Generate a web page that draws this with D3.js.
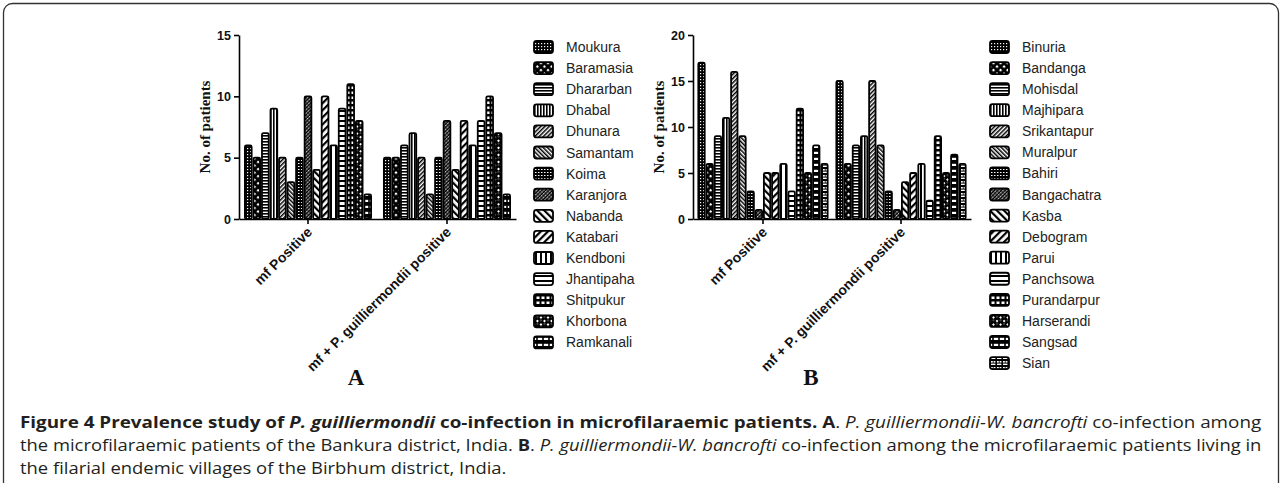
<!DOCTYPE html>
<html>
<head>
<meta charset="utf-8">
<script src="https://cdn.jsdelivr.net/npm/d3@7"></script>
<style>
  body { margin: 0; background: #fff; }
  svg { display: block; }
  .tick text { font-family: "Liberation Sans", Arial, sans-serif; font-weight: bold; font-size: 12.5px; fill: #111; }
  .legend text { font-family: "Liberation Sans", Arial, sans-serif; font-size: 14px; fill: #222; }
  .ylab { font-family: "Liberation Serif", "Times New Roman", serif; font-weight: bold; font-size: 15px; fill: #111; }
  .xlab { font-family: "Liberation Sans", Arial, sans-serif; font-weight: bold; font-size: 14px; fill: #111; }
  .panel { font-family: "Liberation Serif", "Times New Roman", serif; font-weight: bold; font-size: 23px; fill: #111; }
  .caption { font-family: "Open Sans", "Noto Sans", sans-serif; font-size: 16px; fill: #231f20; }
</style>
</head>
<body>
<div id="chart"></div>
<script>
// ---- data ----
const groups = ["mf Positive", "mf + P. guilliermondii positive"];

const villagesA = ["Moukura", "Baramasia", "Dhararban", "Dhabal", "Dhunara", "Samantam", "Koima",
  "Karanjora", "Nabanda", "Katabari", "Kendboni", "Jhantipaha", "Shitpukur", "Khorbona", "Ramkanali"];
const mfPositiveA = [6, 5, 7, 9, 5, 3, 5, 10, 4, 10, 6, 9, 11, 8, 2];
const coPositiveA = [5, 5, 6, 7, 5, 2, 5, 8, 4, 8, 6, 8, 10, 7, 2];
const ticksA = [0, 5, 10, 15];

const villagesB = ["Binuria", "Bandanga", "Mohisdal", "Majhipara", "Srikantapur", "Muralpur", "Bahiri",
  "Bangachatra", "Kasba", "Debogram", "Parui", "Panchsowa", "Purandarpur", "Harserandi", "Sangsad", "Sian"];
const mfPositiveB = [17, 6, 9, 11, 16, 9, 3, 1, 5, 5, 6, 3, 12, 5, 8, 6];
const coPositiveB = [15, 6, 8, 9, 15, 8, 3, 1, 4, 5, 6, 2, 9, 5, 7, 6];
const ticksB = [0, 5, 10, 15, 20];

const W = 1282, H = 483;
const svg = d3.select("#chart").append("svg").attr("width", W).attr("height", H);
const defs = svg.append("defs");

// frame around the figure
svg.append("rect")
  .attr("x", 3.5).attr("y", 3.5).attr("width", W - 7).attr("height", H + 20)
  .attr("rx", 9)
  .attr("fill", "none").attr("stroke", "#333").attr("stroke-width", 1.3);

// ---- hatch patterns (one per village, same order in both panels) ----
function pattern(id, w, h, bg, draw, rot) {
  const p = defs.append("pattern")
    .attr("id", id)
    .attr("patternUnits", "userSpaceOnUse")
    .attr("width", w).attr("height", h);
  if (rot) p.attr("patternTransform", `rotate(${rot})`);
  p.append("rect").attr("width", w).attr("height", h).attr("fill", bg);
  draw(p);
}
const rect = (p, x, y, w, h, c) => p.append("rect").attr("x", x).attr("y", y).attr("width", w).attr("height", h).attr("fill", c);

const patternIds = [];
const makers = [
  p => pattern(p, 3, 3, "#000", g => { rect(g, 1, 1, 1.2, 1.2, "#fff"); }),                         // fine dots
  p => pattern(p, 5, 5, "#000", g => { rect(g, 1, 1, 2.2, 2.2, "#fff"); }, 45),                      // big checker
  p => pattern(p, 3, 3, "#fff", g => { rect(g, 0, 0, 3, 1.6, "#000"); }),                            // horizontal fine
  p => pattern(p, 3, 3, "#fff", g => { rect(g, 0, 0, 1.6, 3, "#000"); }),                            // vertical fine
  p => pattern(p, 3, 3, "#fff", g => { rect(g, 0, 0, 1.5, 3, "#000"); }, 45),                        // diagonal /
  p => pattern(p, 3, 3, "#fff", g => { rect(g, 0, 0, 1.5, 3, "#000"); }, -45),                       // diagonal \
  p => pattern(p, 3, 3, "#000", g => { rect(g, 1, 1, 1.5, 1, "#fff"); }),                            // fine grid
  p => pattern(p, 2.5, 3, "#000", g => { rect(g, 1, 0.5, 1, 2, "#fff"); }, 45),                      // dense diagonal
  p => pattern(p, 5, 5, "#fff", g => { rect(g, 0, 0, 2.2, 5, "#000"); }, -45),                       // wide \
  p => pattern(p, 5, 5, "#fff", g => { rect(g, 0, 0, 2.2, 5, "#000"); }, 45),                        // wide /
  p => pattern(p, 5, 5, "#fff", g => { rect(g, 0, 0, 2, 5, "#000"); }),                              // wide vertical
  p => pattern(p, 5, 5, "#fff", g => { rect(g, 0, 0, 5, 2, "#000"); }),                              // wide horizontal
  p => pattern(p, 5, 5, "#000", g => { rect(g, 1.5, 1.5, 3, 2.5, "#fff"); }),                        // wide grid
  p => pattern(p, 5, 5, "#000", g => { rect(g, 1, 1, 2, 2, "#fff"); rect(g, 3.5, 3.5, 1, 1, "#fff"); }, 45), // zigzag
  p => pattern(p, 6, 6, "#fff", g => { rect(g, 0, 0, 6, 1.8, "#000"); rect(g, 2.2, 0, 1.6, 4, "#000"); rect(g, 0, 4, 6, 2, "#000"); }), // T bricks
  p => pattern(p, 6, 6, "#000", g => { rect(g, 1, 1, 1.8, 1.6, "#fff"); rect(g, 3.6, 1, 1.8, 1.6, "#fff"); rect(g, 1, 3.6, 4.4, 1.4, "#fff"); }) // grid plus
];
makers.forEach((m, i) => { const id = "pat" + i; m(id); patternIds.push(id); });

// ---- one panel ----
function drawPanel(cfg) {
  const y = d3.scaleLinear().domain(cfg.yDomain).range([219, 35]);
  const x0 = d3.scaleBand().domain(groups).range(cfg.xRange)
    .paddingInner(cfg.padIn).paddingOuter(cfg.padOut);
  const x1 = d3.scaleBand().domain(cfg.villages).range([0, x0.bandwidth()]);

  const rows = [];
  groups.forEach((g, gi) => {
    const vals = gi === 0 ? cfg.mf : cfg.co;
    cfg.villages.forEach((v, vi) => rows.push({ group: g, village: v, value: vals[vi], idx: vi }));
  });

  svg.append("g").selectAll("rect").data(rows).join("rect")
    .attr("x", d => x0(d.group) + x1(d.village) + 0.9)
    .attr("y", d => y(d.value))
    .attr("width", x1.bandwidth() - 1.8)
    .attr("height", d => y(0) - y(d.value))
    .attr("rx", 1.5)
    .attr("fill", d => `url(#${patternIds[d.idx]})`)
    .attr("stroke", "#000").attr("stroke-width", 1.8);

  // axes
  const yAxis = svg.append("g").attr("transform", `translate(${cfg.xRange[0]},0)`)
    .call(d3.axisLeft(y).tickValues(cfg.ticks).tickSize(5).tickSizeOuter(0).tickPadding(3));
  yAxis.selectAll("path, line").attr("stroke", "#000").attr("stroke-width", 1.6);

  const xAxis = svg.append("g").attr("transform", `translate(0,${y(0)})`)
    .call(d3.axisBottom(x0).tickSize(5).tickSizeOuter(0).tickFormat(""));
  xAxis.selectAll("path, line").attr("stroke", "#000").attr("stroke-width", 1.6);

  groups.forEach(g => {
    const cx = x0(g) + x0.bandwidth() / 2;
    svg.append("text").attr("class", "xlab")
      .attr("text-anchor", "end")
      .attr("transform", `translate(${cx + 5},${y(0) + 14}) rotate(-45)`)
      .text(g);
  });

  svg.append("text").attr("class", "ylab")
    .attr("text-anchor", "middle")
    .attr("transform", `translate(${cfg.xRange[0] - 29},${(y.range()[0] + y.range()[1]) / 2}) rotate(-90)`)
    .text("No. of patients");

  svg.append("text").attr("class", "panel")
    .attr("text-anchor", "middle")
    .attr("x", cfg.letterX).attr("y", 385)
    .text(cfg.letter);

  // legend
  const lg = svg.append("g").attr("class", "legend");
  cfg.villages.forEach((v, i) => {
    const ry = 47 + i * cfg.legendStep;
    lg.append("rect")
      .attr("x", cfg.legendX).attr("y", ry - 6)
      .attr("width", 19).attr("height", 12).attr("rx", 2.5)
      .attr("fill", `url(#${patternIds[i]})`)
      .attr("stroke", "#000").attr("stroke-width", 1.8);
    lg.append("text")
      .attr("x", cfg.legendX + 32).attr("y", ry)
      .attr("dy", "0.36em")
      .text(v);
  });
}

drawPanel({
  villages: villagesA, mf: mfPositiveA, co: coPositiveA, ticks: ticksA, yDomain: [0, 15],
  xRange: [239, 516], padIn: 0.079, padOut: 0.036,
  legendX: 534, legendStep: 21.1, letter: "A", letterX: 356
});
drawPanel({
  villages: villagesB, mf: mfPositiveB, co: coPositiveB, ticks: ticksB, yDomain: [0, 20],
  xRange: [693, 971], padIn: 0.05, padOut: 0.032,
  legendX: 990, legendStep: 21.07, letter: "B", letterX: 811
});

// ---- caption ----
const captionLines = [
  [["Figure 4 Prevalence study of ", "b"], ["P. guilliermondii", "bi"], [" co-infection in microfilaraemic patients. A", "b"],
   [". ", ""], ["P. guilliermondii-W. bancrofti", "i"], [" co-infection among", ""]],
  [["the microfilaraemic patients of the Bankura district, India. ", ""], ["B", "b"], [". ", ""],
   ["P. guilliermondii-W. bancrofti", "i"], [" co-infection among the microfilaraemic patients living in", ""]],
  [["the filarial endemic villages of the Birbhum district, India.", ""]]
];
const captionY = [428, 451, 474];
const captionWidth = [1242, 1242, null];
let scales = [];
captionLines.forEach((parts, li) => {
  const t = svg.append("text").attr("class", "caption")
    .attr("x", 0).attr("y", 0);
  parts.forEach(([s, st]) => {
    t.append("tspan")
      .attr("font-weight", st.includes("b") ? "bold" : null)
      .attr("font-style", st.includes("i") ? "italic" : null)
      .text(s);
  });
  const w = t.node().getComputedTextLength();
  const k = captionWidth[li] ? captionWidth[li] / w : scales[1];
  scales.push(k);
  t.attr("transform", `translate(20,${captionY[li]}) scale(${k},1)`);
});
</script>
</body>
</html>
